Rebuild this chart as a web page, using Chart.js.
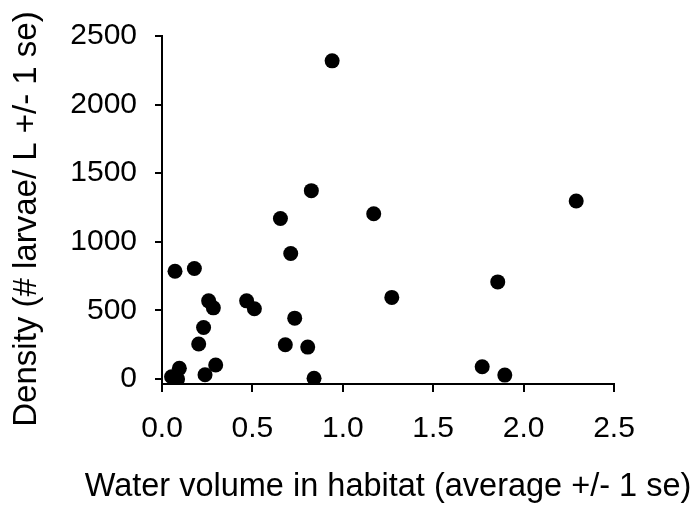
<!DOCTYPE html>
<html>
<head>
<meta charset="utf-8">
<script src="https://cdn.jsdelivr.net/npm/chart.js@4/dist/chart.umd.min.js"></script>
<style>
html,body{margin:0;padding:0;background:#fff;}
#wrap{width:695px;height:508px;}
</style>
</head>
<body>
<div id="wrap"><canvas id="c" width="695" height="508"></canvas></div>
<script>
const waterVolume = [0.941, 0.826, 0.655, 1.171, 0.712, 0.072, 0.179, 0.258, 0.284, 0.468, 0.511, 1.271, 0.734, 0.230, 0.203, 0.682, 0.806, 0.297, 0.096, 0.238, 0.053, 0.086, 0.841, 2.291, 1.857, 1.771, 1.896];
const density = [2319, 1373, 1170, 1205, 915, 786, 806, 570, 519, 570, 512, 595, 444, 376, 255, 250, 233, 102, 78, 31, 17, 0, 5, 1298, 708, 90, 29];
const xTickValues = [0, 0.5, 1.0, 1.5, 2.0, 2.5];
const xTickLabels = ['0.0', '0.5', '1.0', '1.5', '2.0', '2.5'];
const yTickValues = [0, 500, 1000, 1500, 2000, 2500];
const yTickLabels = ['0', '500', '1000', '1500', '2000', '2500'];
const xTitle = 'Water volume in habitat (average +/- 1 se)';
const yTitle = 'Density (# larvae/ L +/- 1 se)';

const points = waterVolume.map((x, i) => ({x: x, y: density[i]}));
const FONT = '"Liberation Sans", Arial, sans-serif';

// Axis titles drawn as canvas text (Chart.js would squeeze the long x title to the plot width)
const axisTitles = {
  id: 'axisTitles',
  afterDraw(chart) {
    const ctx = chart.ctx;
    const a = chart.chartArea;
    ctx.save();
    ctx.fillStyle = '#000';
    ctx.textAlign = 'center';
    ctx.textBaseline = 'middle';
    ctx.font = '32.5px ' + FONT;
    ctx.fillText(xTitle, (a.left + a.right) / 2, 487);
    ctx.translate(27, 219);
    ctx.rotate(-Math.PI / 2);
    ctx.font = '33px ' + FONT;
    ctx.fillText(yTitle, 0, 0);
    ctx.restore();
  }
};

new Chart(document.getElementById('c'), {
  type: 'scatter',
  data: {
    datasets: [{
      data: points,
      backgroundColor: '#000',
      borderColor: '#000',
      borderWidth: 0,
      pointRadius: 7.5,
      pointHoverRadius: 7.5
    }]
  },
  plugins: [axisTitles],
  options: {
    responsive: false,
    devicePixelRatio: 1,
    animation: false,
    layout: {padding: {top: 35, right: 81, left: 0, bottom: 0}},
    plugins: {legend: {display: false}, tooltip: {enabled: false}},
    scales: {
      x: {
        type: 'linear',
        min: 0, max: 2.5,
        afterBuildTicks: s => { s.ticks = xTickValues.map(v => ({value: v})); },
        afterFit: s => { s.height = 124; },
        ticks: {
          color: '#000',
          font: {family: FONT, size: 30},
          padding: 19,
          maxRotation: 0,
          callback: (v) => xTickLabels[xTickValues.indexOf(v)]
        },
        grid: {display: true, drawOnChartArea: false, drawTicks: true, tickLength: 8, color: '#000', lineWidth: 2},
        border: {display: true, color: '#000', width: 2}
      },
      y: {
        type: 'linear',
        min: -36, max: 2500,
        afterBuildTicks: s => { s.ticks = yTickValues.map(v => ({value: v})); },
        afterFit: s => { s.width = 162; },
        ticks: {
          color: '#000',
          font: {family: FONT, size: 30},
          padding: 18,
          callback: (v) => yTickLabels[yTickValues.indexOf(v)]
        },
        grid: {display: true, drawOnChartArea: false, drawTicks: true, tickLength: 7, color: '#000', lineWidth: 2},
        border: {display: true, color: '#000', width: 2}
      }
    }
  }
});
</script>
</body>
</html>
